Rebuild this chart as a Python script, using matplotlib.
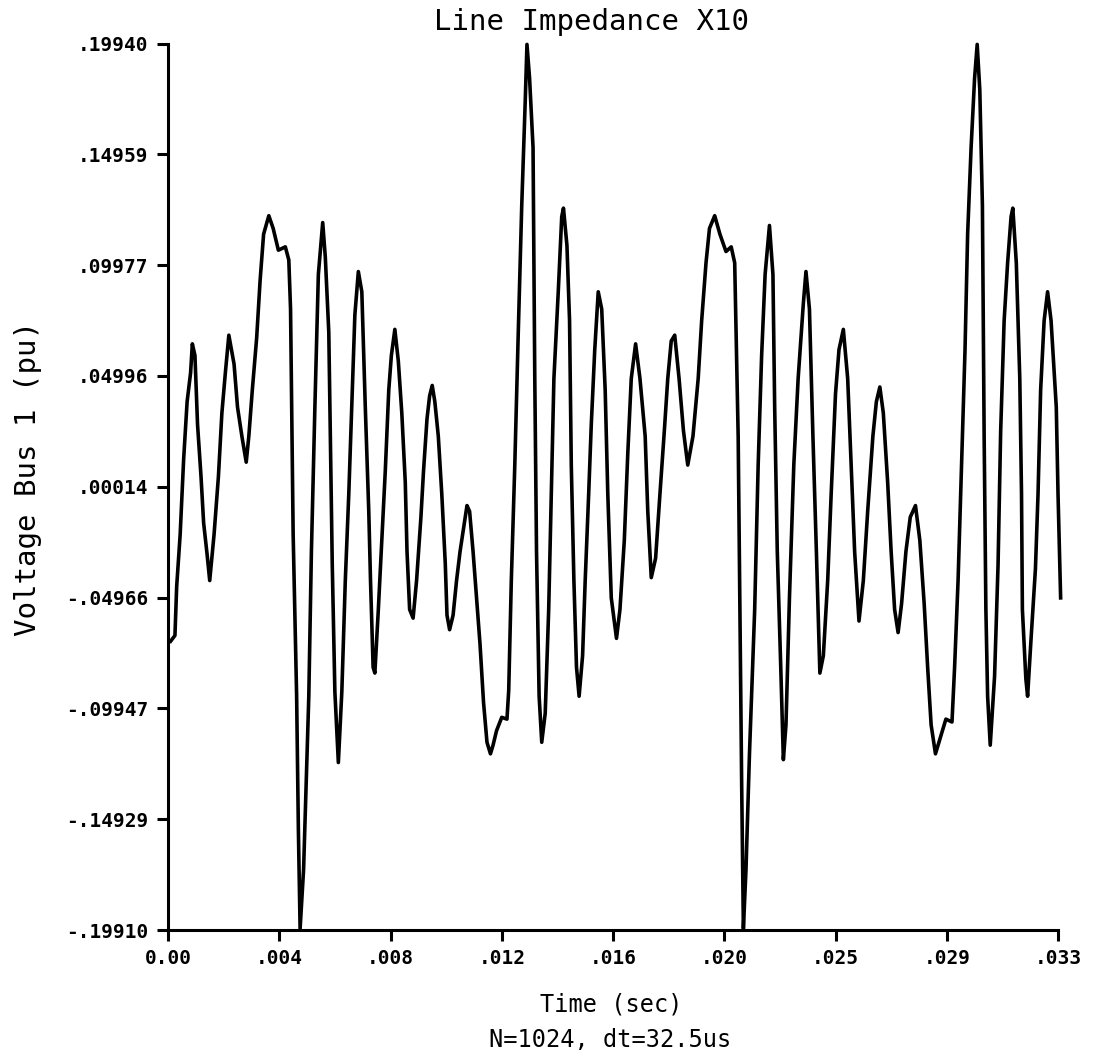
import numpy as np
import matplotlib.pyplot as plt

N = 1024
dt = 32.5e-6

# turning points of the bus voltage trace: sample number and value (pu)
n = [3, 8, 10, 14, 18, 22, 26, 28, 31, 34, 38, 41, 45, 48, 53, 58, 62, 66, 70, 76,
     80, 85, 90, 93, 97, 102, 106, 110, 116, 121, 127, 135, 139, 141, 144, 148, 150, 152,
     156, 158, 162, 165, 169, 173, 178, 181, 185, 189, 192, 196, 200, 204, 208, 212, 215,
     219, 223, 227, 231, 233, 236, 238, 242, 246, 250, 254, 257, 261, 265, 269, 273, 275,
     278, 282, 286, 291, 294, 298, 301, 304, 307, 311, 315, 319, 321, 324, 328, 332, 336,
     340, 344, 347, 351, 355, 359, 363, 367, 371, 374, 378, 384, 390, 392, 395, 399, 403,
     407, 411, 413, 416, 420, 422, 424, 427, 430, 434, 438, 441, 444, 449, 453, 455, 459,
     462, 464, 467, 470, 473, 477, 480, 484, 487, 491, 495, 499, 503, 506, 510, 516, 520,
     525, 529, 533, 538, 543, 549, 552, 556, 561, 566, 571, 575, 579, 583, 588, 593, 598,
     604, 610, 614, 619, 623, 629, 635, 642, 648, 652, 656, 658, 660, 662, 665, 669, 675,
     679, 683, 687, 692, 696, 698, 701, 705, 708, 711, 715, 720, 725, 731, 734, 738, 742,
     746, 750, 754, 759, 763, 768, 772, 777, 782, 786, 790, 795, 800, 805, 811, 815, 819,
     823, 828, 832, 836, 840, 844, 849, 854, 860, 865, 870, 874, 878, 883, 888, 895, 902,
     905, 909, 913, 917, 920, 924, 928, 931, 934, 937, 939, 941, 943, 946, 951, 955, 958,
     962, 966, 970, 972, 976, 980, 982, 983, 987, 989, 993, 998, 1001, 1004, 1008, 1012,
     1016, 1022, 1024, 1027]
volt = [-0.0693, -0.0667, -0.0446, -0.0213, 0.0125, 0.0384, 0.0514, 0.0644, 0.0592, 0.0281,
        0.0047, -0.0161, -0.0303, -0.0420, -0.0213, 0.0047, 0.0333, 0.0514, 0.0683, 0.0553,
        0.0359, 0.0229, 0.0112, 0.0229, 0.0436, 0.0670, 0.0930, 0.1137, 0.1220, 0.1163,
        0.1065, 0.1080, 0.1021, 0.0800, -0.0213, -0.0940, -0.1537, -0.1985, -0.1719, -0.1459,
        -0.0940, -0.0290, 0.0359, 0.0956, 0.1189, 0.1033, 0.0696, -0.0350, -0.0920, -0.1238,
        -0.0920, -0.0420, -0.0031, 0.0436, 0.0774, 0.0969, 0.0878, 0.0359, -0.0109, -0.0420,
        -0.0810, -0.0836, -0.0550, -0.0239, 0.0073, 0.0436, 0.0592, 0.0709, 0.0566, 0.0333,
        0.0021, -0.0290, -0.0550, -0.0589, -0.0420, -0.0135, 0.0073, 0.0307, 0.0410, 0.0457,
        0.0384, 0.0229, -0.0031, -0.0342, -0.0576, -0.0641, -0.0576, -0.0420, -0.0290, -0.0187,
        -0.0083, -0.0109, -0.0290, -0.0498, -0.0706, -0.0966, -0.1147, -0.1199, -0.1160, -0.1095,
        -0.1035, -0.1043, -0.0914, -0.0420, 0.0099, 0.0696, 0.1267, 0.1734, 0.1990, 0.1838,
        0.1527, 0.0488, -0.0290, -0.0940, -0.1147, -0.1017, -0.0550, -0.0031, 0.0488, 0.0878,
        0.1216, 0.1254, 0.1086, 0.0748, 0.0099, -0.0420, -0.0810, -0.0940, -0.0758, -0.0420,
        -0.0031, 0.0281, 0.0618, 0.0878, 0.0800, 0.0436, -0.0031, -0.0498, -0.0680, -0.0550,
        -0.0239, 0.0151, 0.0488, 0.0644, 0.0488, 0.0229, -0.0109, -0.0407, -0.0320, -0.0031,
        0.0250, 0.0488, 0.0657, 0.0683, 0.0488, 0.0255, 0.0099, 0.0229, 0.0488, 0.0748,
        0.1008, 0.1163, 0.1220, 0.1137, 0.1059, 0.1080, 0.1008, 0.0229, -0.0550, -0.1329,
        -0.1985, -0.1719, -0.1199, -0.0550, 0.0099, 0.0592, 0.0956, 0.1176, 0.0956, 0.0359,
        -0.0290, -0.0810, -0.1225, -0.1069, -0.0498, 0.0099, 0.0488, 0.0826, 0.0969, 0.0800,
        0.0229, -0.0290, -0.0836, -0.0758, -0.0420, -0.0031, 0.0420, 0.0618, 0.0709, 0.0488,
        0.0099, -0.0290, -0.0602, -0.0420, -0.0109, 0.0229, 0.0384, 0.0450, 0.0333, 0.0021,
        -0.0290, -0.0550, -0.0654, -0.0524, -0.0290, -0.0135, -0.0083, -0.0239, -0.0524, -0.0810,
        -0.1069, -0.1199, -0.1134, -0.1043, -0.1056, -0.0810, -0.0420, 0.0099, 0.0618, 0.1137,
        0.1527, 0.1838, 0.1990, 0.1786, 0.1267, 0.0229, -0.0550, -0.0940, -0.1160, -0.0850,
        -0.0350, 0.0250, 0.0748, 0.1008, 0.1216, 0.1254, 0.1008, 0.0488, -0.0031, -0.0550,
        -0.0862, -0.0940, -0.0680, -0.0368, -0.0031, 0.0436, 0.0748, 0.0878, 0.0748, 0.0359,
        -0.0031, -0.0498]

yticks = [0.19940, 0.14959, 0.09977, 0.04996, 0.00014, -0.04966, -0.09947, -0.14929, -0.19910]
ylabels = [".19940", ".14959", ".09977", ".04996", ".00014", "-.04966", "-.09947", "-.14929", "-.19910"]
xlabels = ["0.00", ".004", ".008", ".012", ".016", ".020", ".025", ".029", ".033"]

t = np.array(n) * dt

fig = plt.figure(figsize=(10.93, 10.59), dpi=100)
ax = fig.add_axes([0.1537, 0.1218, 0.8143, 0.8371])

ax.plot(t, volt, color="black", lw=2.6, solid_joinstyle="round", clip_on=False)

ax.set_xlim(0, N * dt)
ax.set_ylim(yticks[-1], yticks[0])
ax.set_xticks(np.arange(9) * N * dt / 8, labels=xlabels)
ax.set_yticks(yticks, labels=ylabels)

for s in ["top", "right"]:
    ax.spines[s].set_visible(False)
for s in ["left", "bottom"]:
    ax.spines[s].set_linewidth(2.2)

ax.tick_params(direction="out", length=8, width=2.2, pad=6)
for lab in ax.get_xticklabels() + ax.get_yticklabels():
    lab.set_family("DejaVu Sans Mono")
    lab.set_fontweight("bold")
    lab.set_fontsize(14)

mono = "DejaVu Sans Mono"
fig.text(0.5416, 0.979, "Line Impedance X10", family=mono, fontsize=21, ha="center", va="center")
fig.text(0.026, 0.548, "Voltage Bus 1 (pu)", family=mono, fontsize=21, rotation=90,
         ha="center", va="center")
fig.text(0.559, 0.051, "Time (sec)", family=mono, fontsize=17, ha="center", va="center")
fig.text(0.558, 0.018, "N=1024, dt=32.5us", family=mono, fontsize=17, ha="center", va="center")

fig.savefig("out.png", dpi=100, facecolor="white")
